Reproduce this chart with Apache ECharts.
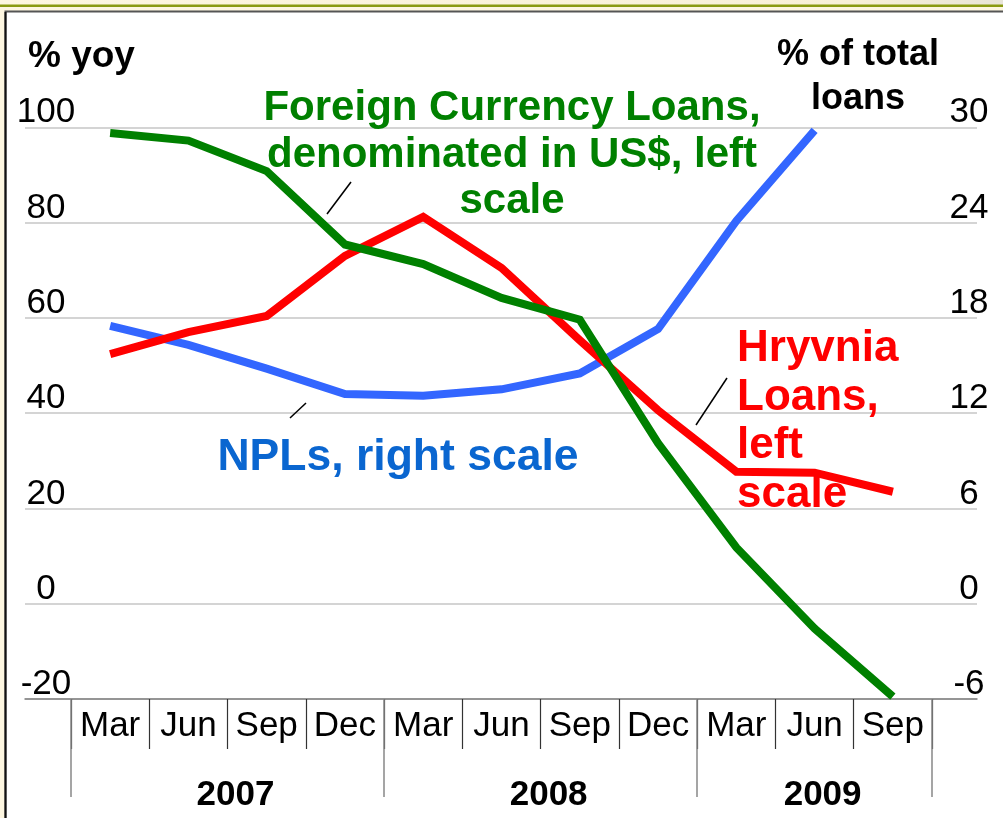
<!DOCTYPE html>
<html>
<head>
<meta charset="utf-8">
<script src="https://cdn.jsdelivr.net/npm/echarts@6/dist/echarts.min.js"></script>
<style>
html,body{margin:0;padding:0;background:#FDF6E0;}
#c{width:1003px;height:818px;}
</style>
</head>
<body>
<div id="c"></div>
<script>
// ---- data ----
const categories = ['Mar','Jun','Sep','Dec','Mar','Jun','Sep','Dec','Mar','Jun','Sep'];
const years = ['2007','2008','2009'];
const yearBoundaries = [0, 4, 8, 11];
const yearLabelPos = [2, 6, 9.5];
const hryvniaLoans = [52.4, 57.0, 60.4, 73.0, 81.2, 70.5, 55.3, 40.6, 27.7, 27.5, 23.5];
const fxLoans = [98.8, 97.2, 90.8, 75.4, 71.3, 64.2, 59.6, 33.7, 11.8, -5.2, -19.5];
const npls = [17.5, 16.3, 14.8, 13.2, 13.1, 13.5, 14.5, 17.3, 24.1, 29.8, null];
const leftScale = {min: -20, max: 100, interval: 20};
const rightScale = {min: -6, max: 30, interval: 6};

const FONT = "'Liberation Sans', Arial, sans-serif";
const chart = echarts.init(document.getElementById('c'), null, {renderer: 'canvas'});

const option = {
  backgroundColor: '#FDF6E0',
  animation: false,
  grid: [
    {left: 25, right: 26, top: 127.3, bottom: 119},
    {left: 71, right: 71, top: 127.3, bottom: 119}
  ],
  xAxis: [
    {
      gridIndex: 1, type: 'category', data: categories, position: 'bottom',
      boundaryGap: true,
      axisLine: {show: false, onZero: false},
      axisTick: {show: true, interval: 0, length: 50, lineStyle: {color: '#333', width: 1.2}},
      axisLabel: {interval: 0, margin: 10, color: '#000', fontSize: 35, fontFamily: FONT},
      splitLine: {show: false}
    },
    {
      gridIndex: 1, type: 'value', min: 0, max: 11, position: 'bottom',
      axisLine: {show: false, onZero: false},
      axisTick: {show: true, customValues: yearBoundaries, length: 98, lineStyle: {color: '#888', width: 1.5}},
      axisLabel: {
        show: true, customValues: yearLabelPos, margin: 79, padding: [0, 0, 0, 16],
        color: '#000', fontSize: 35, fontWeight: 'bold', fontFamily: FONT,
        formatter: v => years[yearLabelPos.indexOf(v)]
      },
      splitLine: {show: false}
    },
    {
      gridIndex: 0, type: 'value', min: 0, max: 1, position: 'bottom',
      axisLine: {show: true, onZero: false, lineStyle: {color: '#808080', width: 1.5}},
      axisTick: {show: false}, axisLabel: {show: false}, splitLine: {show: false}
    }
  ],
  yAxis: [
    {
      gridIndex: 0, type: 'value', position: 'left', ...leftScale,
      axisLine: {show: false}, axisTick: {show: false},
      axisLabel: {
        align: 'center', margin: -21, verticalAlign: 'middle', lineHeight: 29,
        formatter: v => v + '\n ',
        color: '#000', fontSize: 35, fontFamily: FONT
      },
      splitLine: {show: true, lineStyle: {color: '#c6c6c6', width: 1.5}}
    },
    {
      gridIndex: 0, type: 'value', position: 'right', ...rightScale,
      axisLine: {show: false}, axisTick: {show: false},
      axisLabel: {
        align: 'center', margin: -8, verticalAlign: 'middle', lineHeight: 29,
        formatter: v => v + '\n ',
        color: '#000', fontSize: 35, fontFamily: FONT
      },
      splitLine: {show: false}
    },
    {
      gridIndex: 1, type: 'value', position: 'left', ...leftScale,
      show: false
    },
    {
      gridIndex: 1, type: 'value', position: 'right', ...rightScale,
      show: false
    }
  ],
  series: [
    {
      name: 'NPLs, right scale', type: 'line', xAxisIndex: 0, yAxisIndex: 3,
      data: npls, showSymbol: false, symbol: 'none', connectNulls: false,
      lineStyle: {color: '#3366FF', width: 8, join: 'miter'}, z: 3
    },
    {
      name: 'Hryvnia Loans, left scale', type: 'line', xAxisIndex: 0, yAxisIndex: 2,
      data: hryvniaLoans, showSymbol: false, symbol: 'none',
      lineStyle: {color: '#FF0000', width: 8, join: 'miter'}, z: 4
    },
    {
      name: 'Foreign Currency Loans, denominated in US$, left scale', type: 'line', xAxisIndex: 0, yAxisIndex: 2,
      data: fxLoans, showSymbol: false, symbol: 'none',
      lineStyle: {color: '#008000', width: 8, join: 'miter'}, z: 5
    }
  ],
  graphic: [
    {type: 'rect', z: -100, shape: {x: 0, y: 0, width: 1003, height: 5},
     style: {fill: new echarts.graphic.LinearGradient(0, 0, 1, 0, [{offset: 0, color: '#FDF6E0'}, {offset: 0.85, color: '#F8F0D8'}, {offset: 1, color: '#E8E4D8'}])}},
    {type: 'rect', z: -100, shape: {x: 0, y: 4.5, width: 1003, height: 2.5}, style: {fill: '#8A9A12'}},
    {type: 'rect', z: -99, shape: {x: 5.5, y: 11.5, width: 1010, height: 820},
     style: {fill: '#FFFFFF', stroke: '#555', lineWidth: 2}},
    {type: 'rect', z: -98, shape: {x: 4.5, y: 12, width: 2, height: 810}, style: {fill: '#111'}},
    // titles
    {type: 'text', left: 28, top: 38, z: 10,
     style: {text: '% yoy', fill: '#000', font: "bold 37px " + FONT}},
    {type: 'text', x: 858, y: 77, z: 10,
     style: {text: '% of total\nloans', fill: '#000', font: "bold 36px " + FONT,
             align: 'center', verticalAlign: 'middle', lineHeight: 44}},
    // annotations
    {type: 'text', x: 512, y: 155, z: 10,
     style: {text: 'Foreign Currency Loans,\ndenominated in US$, left\nscale', fill: '#008000',
             font: "bold 42px " + FONT, align: 'center', verticalAlign: 'middle', lineHeight: 46.5}},
    {type: 'text', x: 398, y: 458, z: 10,
     style: {text: 'NPLs, right scale', fill: '#0A66D0', font: "bold 44.5px " + FONT,
             align: 'center', verticalAlign: 'middle'}},
    {type: 'text', x: 737, y: 422, z: 10,
     style: {text: 'Hryvnia\nLoans,\nleft\nscale', fill: '#FF0000', font: "bold 44px " + FONT,
             align: 'left', verticalAlign: 'middle', lineHeight: 48.7}},
    // leader lines
    {type: 'line', z: 10, shape: {x1: 327, y1: 214, x2: 351, y2: 182}, style: {stroke: '#000', lineWidth: 1.5}},
    {type: 'line', z: 10, shape: {x1: 290, y1: 418, x2: 306, y2: 403}, style: {stroke: '#000', lineWidth: 1.5}},
    {type: 'line', z: 10, shape: {x1: 696, y1: 425, x2: 727, y2: 378}, style: {stroke: '#000', lineWidth: 1.5}}
  ]
};
chart.setOption(option);
</script>
</body>
</html>
